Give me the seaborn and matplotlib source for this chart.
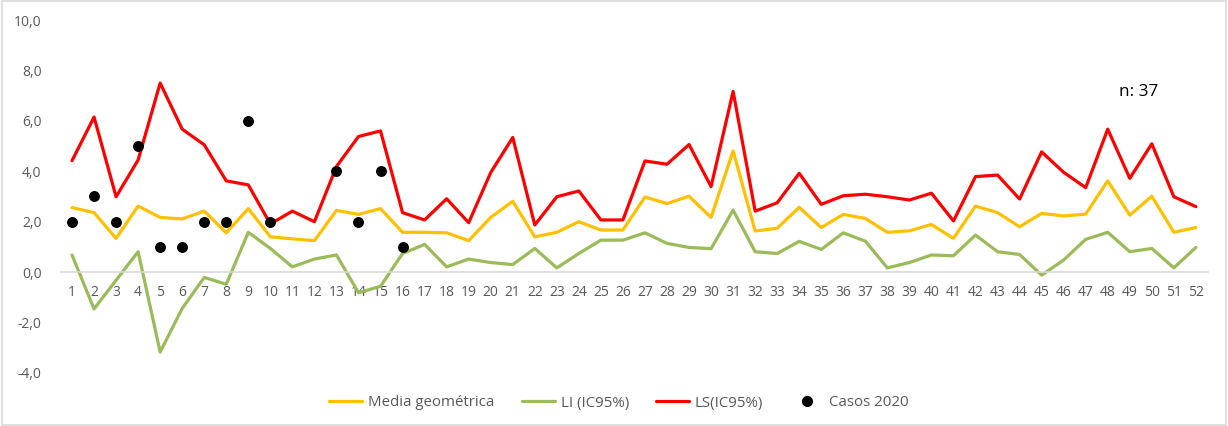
import matplotlib
matplotlib.use("Agg")
import matplotlib.pyplot as plt
import matplotlib.ticker as mticker
from matplotlib.patches import Rectangle
from matplotlib.lines import Line2D
import seaborn as sns
import pandas as pd

weeks = list(range(1, 53))
media = [2.56, 2.36, 1.34, 2.62, 2.17, 2.11, 2.42, 1.56, 2.52, 1.40,
         1.32, 1.25, 2.45, 2.29, 2.52, 1.58, 1.58, 1.56, 1.25, 2.17,
         2.81, 1.40, 1.58, 2.00, 1.67, 1.67, 2.98, 2.72, 3.01, 2.17,
         4.81, 1.63, 1.74, 2.57, 1.77, 2.29, 2.13, 1.58, 1.64, 1.89,
         1.34, 2.62, 2.36, 1.80, 2.33, 2.23, 2.30, 3.62, 2.26, 3.01,
         1.58, 1.77]
li = [0.68, -1.46, -0.32, 0.81, -3.17, -1.44, -0.21, -0.48, 1.58, 0.94,
      0.21, 0.52, 0.68, -0.82, -0.56, 0.74, 1.10, 0.21, 0.52, 0.38,
      0.30, 0.94, 0.17, 0.74, 1.27, 1.27, 1.56, 1.14, 0.98, 0.93,
      2.46, 0.81, 0.74, 1.22, 0.90, 1.56, 1.23, 0.17, 0.38, 0.68,
      0.65, 1.47, 0.81, 0.70, -0.12, 0.48, 1.30, 1.58, 0.81, 0.94,
      0.17, 0.98]
ls = [4.42, 6.15, 2.99, 4.45, 7.50, 5.67, 5.05, 3.62, 3.46, 1.91,
      2.42, 2.00, 4.19, 5.38, 5.60, 2.36, 2.07, 2.91, 1.96, 3.95,
      5.34, 1.87, 2.99, 3.22, 2.07, 2.07, 4.41, 4.28, 5.06, 3.39,
      7.17, 2.42, 2.75, 3.92, 2.69, 3.03, 3.09, 2.99, 2.86, 3.13,
      2.03, 3.79, 3.85, 2.90, 4.77, 3.96, 3.35, 5.67, 3.72, 5.09,
      2.99, 2.60]
casos_weeks = [1, 2, 3, 4, 5, 6, 7, 8, 9, 10, 13, 14, 15, 16]
casos_vals = [2, 3, 2, 5, 1, 1, 2, 2, 6, 2, 4, 2, 4, 1]

series_names = ["Media geométrica", "LI (IC95%)", "LS(IC95%)"]
colors = ["#FFC000", "#9BBB59", "#FF0000"]

df = pd.DataFrame({
    "week": weeks * 3,
    "value": media + li + ls,
    "serie": [series_names[0]] * 52 + [series_names[1]] * 52 + [series_names[2]] * 52,
})
dfc = pd.DataFrame({"week": casos_weeks, "value": casos_vals})

sns.set_theme(style="white")
plt.rcParams["font.family"] = ["Open Sans", "DejaVu Sans"]

fig = plt.figure(figsize=(12.28, 4.26), dpi=100)
ax = fig.add_axes([61 / 1228, 1 - 373 / 426, (1208 - 61) / 1228, (373 - 20) / 426])

sns.lineplot(data=df, x="week", y="value", hue="serie", palette=colors,
             hue_order=series_names, linewidth=2.3, ax=ax, legend=False)
sns.scatterplot(data=dfc, x="week", y="value", color="black", s=62,
                edgecolor="black", linewidth=0, ax=ax, zorder=5, legend=False)

ax.set_xlim(0.5, 52.55)
ax.set_ylim(-4, 10)
ax.set_yticks([-4, -2, 0, 2, 4, 6, 8, 10])
ax.yaxis.set_major_formatter(mticker.FuncFormatter(lambda v, p: f"{v:.1f}".replace(".", ",")))
ax.set_xticks(weeks)
ax.set_xticklabels([str(w) for w in weeks])
ax.set_xlabel("")
ax.set_ylabel("")

for s in ["top", "right", "left"]:
    ax.spines[s].set_visible(False)
ax.spines["bottom"].set_position(("data", 0))
ax.spines["bottom"].set_color("#D9D9D9")
ax.spines["bottom"].set_linewidth(1.2)
ax.tick_params(axis="x", length=0, pad=9, labelsize=10, labelcolor="#595959")
ax.tick_params(axis="y", length=0, pad=14, labelsize=10, labelcolor="#595959")
ax.grid(False)

ax.text(49.4, 7.14, "n: 37", fontsize=12.3, color="black", ha="center", va="center")

handles = [Line2D([0], [0], color=c, lw=2.3) for c in colors]
handles.append(Line2D([0], [0], color="black", marker="o", linestyle="None", markersize=7))
fig.legend(handles, series_names + ["Casos 2020"], loc="center", ncol=4,
           bbox_to_anchor=(619 / 1228, 1 - 403 / 426), frameon=False,
           fontsize=10.8, labelcolor="#595959", handlelength=2.2, handletextpad=0.4,
           columnspacing=1.8)

fig.patches.append(Rectangle((0.002, 0.003), 0.996, 0.994, transform=fig.transFigure,
                             fill=False, edgecolor="#D9D9D9", linewidth=1.2))

fig.savefig("out.png", dpi=100, facecolor="white")
